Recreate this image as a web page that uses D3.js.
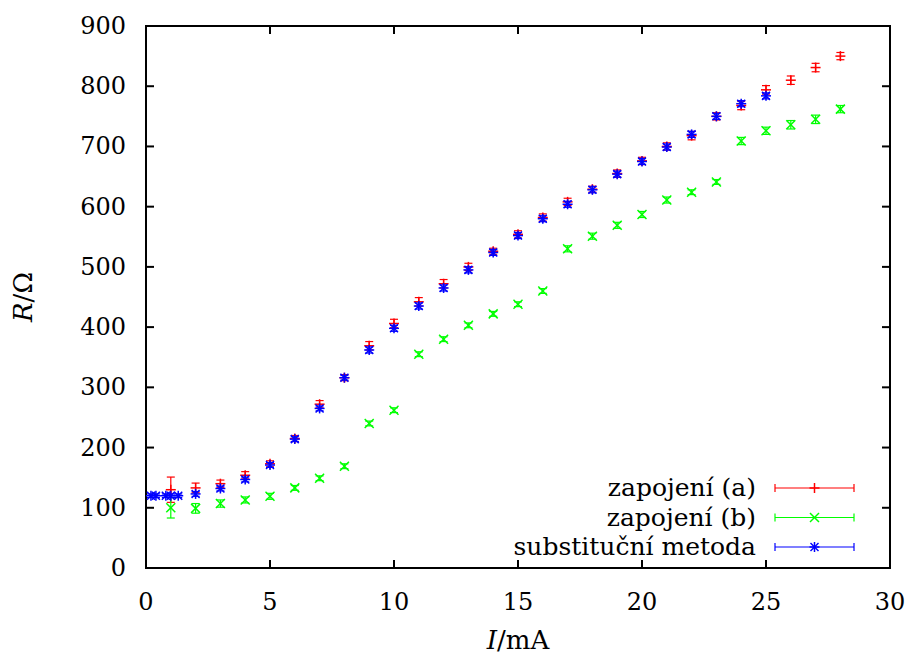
<!DOCTYPE html>
<html>
<head>
<meta charset="utf-8">
<script src="https://cdn.jsdelivr.net/npm/d3@7"></script>
<style>
  body { margin: 0; background: #fff; }
</style>
</head>
<body>
<div id="chart"></div>
<script>
// zapojeni (a)
var aI   = [1, 2, 3, 4, 5, 6, 7, 8, 9, 10, 11, 12, 13, 14, 15, 16, 17, 18, 19, 20, 21, 22, 23, 24, 25, 26, 27, 28]
var aR   = [130, 133, 140, 154, 173, 215, 272, 316, 369, 406, 442, 472, 500, 526, 554, 582, 608, 629, 655, 676, 700, 718, 750, 768, 794, 810, 831, 850]
var aErr = [21, 8, 6, 6, 5, 5, 6, 5, 7, 7, 7, 7, 6, 5, 6, 6, 6, 5, 6, 6, 6, 7, 6, 7, 7, 7, 7, 6]

// zapojeni (b)
var bI   = [1, 2, 3, 4, 5, 6, 7, 8, 9, 10, 11, 12, 13, 14, 15, 16, 17, 18, 19, 20, 21, 22, 23, 24, 25, 26, 27, 28]
var bR   = [100, 99, 107, 113, 119, 133, 149, 169, 240, 262, 355, 380, 403, 422, 438, 460, 530, 551, 569, 587, 611, 624, 641, 709, 726, 736, 745, 762]
var bErr = [17, 8, 6, 5, 5, 4, 4, 4, 4, 4, 4, 4, 4, 4, 4, 4, 5, 5, 5, 5, 5, 4, 4, 6, 6, 7, 7, 6]

// substitucni metoda
var sI   = [0.2, 0.4, 0.8, 1.0, 1.3, 2, 3, 4, 5, 6, 7, 8, 9, 10, 11, 12, 13, 14, 15, 16, 17, 18, 19, 20, 21, 22, 23, 24, 25]
var sR   = [120, 120, 120, 120, 120, 123, 132, 147, 171, 214, 265, 316, 362, 398, 435, 465, 495, 524, 552, 580, 604, 628, 654, 675, 699, 720, 750, 771, 784]
var sErr = [3, 3, 3, 3, 3, 4, 4, 4, 4, 4, 4, 4, 5, 5, 5, 5, 5, 5, 5, 5, 5, 5, 5, 5, 5, 5, 5, 5, 5]

var xTicks = [0, 5, 10, 15, 20, 25, 30]
var yTicks = [0, 100, 200, 300, 400, 500, 600, 700, 800, 900]

var series = [
  { name: 'zapojení (a)', color: '#ff0000', sym: 'plus', I: aI, R: aR, E: aErr },
  { name: 'zapojení (b)', color: '#00ff00', sym: 'cross', I: bI, R: bR, E: bErr },
  { name: 'substituční metoda', color: '#0000ff', sym: 'star', I: sI, R: sR, E: sErr }
]

var W = 911, H = 655
var m = { left: 146, right: 21, top: 26, bottom: 87 }
var FONT = "'DejaVu Serif', serif"

var svg = d3.select('#chart').append('svg').attr('width', W).attr('height', H)
  .attr('font-family', FONT)

var x = d3.scaleLinear().domain([0, 30]).range([m.left, W - m.right])
var y = d3.scaleLinear().domain([0, 900]).range([H - m.bottom, m.top])

var tickLen = 8

// ticks (inward, mirrored)
var g = svg.append('g')
xTicks.forEach(function (t) {
  g.append('line').attr('x1', x(t)).attr('x2', x(t)).attr('y1', y(0)).attr('y2', y(0) - tickLen).attr('stroke', '#000').attr('stroke-width', 2)
  g.append('line').attr('x1', x(t)).attr('x2', x(t)).attr('y1', y(900)).attr('y2', y(900) + tickLen).attr('stroke', '#000').attr('stroke-width', 2)
  g.append('text').attr('x', x(t)).attr('y', y(0) + 42).attr('text-anchor', 'middle').attr('font-size', 24).text(t)
})
yTicks.forEach(function (t) {
  g.append('line').attr('x1', x(0)).attr('x2', x(0) + tickLen).attr('y1', y(t)).attr('y2', y(t)).attr('stroke', '#000').attr('stroke-width', 2)
  g.append('line').attr('x1', x(30)).attr('x2', x(30) - tickLen).attr('y1', y(t)).attr('y2', y(t)).attr('stroke', '#000').attr('stroke-width', 2)
  g.append('text').attr('x', x(0) - 20).attr('y', y(t) + 8).attr('text-anchor', 'end').attr('font-size', 24).text(t)
})

// frame
svg.append('rect').attr('x', x(0)).attr('y', y(900)).attr('width', x(30) - x(0)).attr('height', y(0) - y(900))
  .attr('fill', 'none').attr('stroke', '#000').attr('stroke-width', 2)

// axis titles
var xt = svg.append('text').attr('x', (x(0) + x(30)) / 2).attr('y', 649).attr('text-anchor', 'middle').attr('font-size', 26)
xt.append('tspan').attr('font-style', 'italic').text('I')
xt.append('tspan').text('/mA')

var yt = svg.append('text').attr('transform', 'translate(32,' + ((y(0) + y(900)) / 2) + ') rotate(-90)')
  .attr('text-anchor', 'middle').attr('font-size', 26)
yt.append('tspan').attr('font-style', 'italic').text('R')
yt.append('tspan').text('/Ω')

function symbol(sel, type, cx, cy, color) {
  var s = 5
  if (type === 'plus' || type === 'star') {
    sel.append('line').attr('x1', cx - s).attr('x2', cx + s).attr('y1', cy).attr('y2', cy).attr('stroke', color).attr('stroke-width', 1.5)
    sel.append('line').attr('x1', cx).attr('x2', cx).attr('y1', cy - s).attr('y2', cy + s).attr('stroke', color).attr('stroke-width', 1.5)
  }
  if (type === 'cross' || type === 'star') {
    var d = type === 'star' ? 4 : 4.5
    sel.append('line').attr('x1', cx - d).attr('x2', cx + d).attr('y1', cy - d).attr('y2', cy + d).attr('stroke', color).attr('stroke-width', 1.5)
    sel.append('line').attr('x1', cx - d).attr('x2', cx + d).attr('y1', cy + d).attr('y2', cy - d).attr('stroke', color).attr('stroke-width', 1.5)
  }
}

var cap = 4
series.forEach(function (s) {
  var gs = svg.append('g')
  s.I.forEach(function (v, i) {
    var cx = x(v), cy = y(s.R[i])
    var y1 = y(s.R[i] + s.E[i]), y2 = y(s.R[i] - s.E[i])
    gs.append('line').attr('x1', cx).attr('x2', cx).attr('y1', y1).attr('y2', y2).attr('stroke', s.color).attr('stroke-width', 1.2)
    gs.append('line').attr('x1', cx - cap).attr('x2', cx + cap).attr('y1', y1).attr('y2', y1).attr('stroke', s.color).attr('stroke-width', 1.2)
    gs.append('line').attr('x1', cx - cap).attr('x2', cx + cap).attr('y1', y2).attr('y2', y2).attr('stroke', s.color).attr('stroke-width', 1.2)
    symbol(gs, s.sym, cx, cy, s.color)
  })
})

// legend
var lg = svg.append('g')
series.forEach(function (s, i) {
  var ly = 488 + i * 29.5
  lg.append('text').attr('x', 756).attr('y', ly + 8).attr('text-anchor', 'end').attr('font-size', 25).text(s.name)
  lg.append('line').attr('x1', 775).attr('x2', 854).attr('y1', ly).attr('y2', ly).attr('stroke', s.color).attr('stroke-width', 1.2)
  lg.append('line').attr('x1', 775).attr('x2', 775).attr('y1', ly - 4).attr('y2', ly + 4).attr('stroke', s.color).attr('stroke-width', 1.2)
  lg.append('line').attr('x1', 854).attr('x2', 854).attr('y1', ly - 4).attr('y2', ly + 4).attr('stroke', s.color).attr('stroke-width', 1.2)
  symbol(lg, s.sym, 814.5, ly, s.color)
})
</script>
</body>
</html>
